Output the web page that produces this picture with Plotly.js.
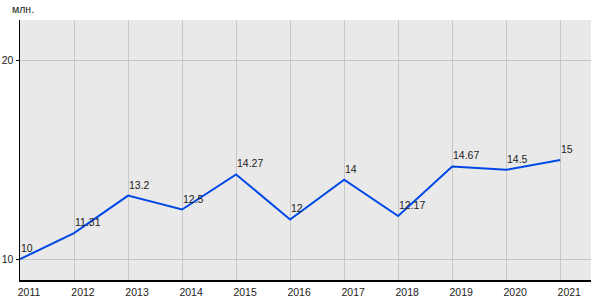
<!DOCTYPE html>
<html>
<head>
<meta charset="utf-8">
<script src="https://cdn.plot.ly/plotly-3.0.1.min.js"></script>
<style>html,body{margin:0;padding:0;background:#fff;}#chart{width:600px;height:300px;}</style>
</head>
<body>
<div id="chart"></div>
<script>
const years = [2011, 2012, 2013, 2014, 2015, 2016, 2017, 2018, 2019, 2020, 2021];
const values = [10, 11.31, 13.2, 12.5, 14.27, 12, 14, 12.17, 14.67, 14.5, 15];
const valueLabels = ["10", "11.31", "13.2", "12.5", "14.27", "12", "14", "12.17", "14.67", "14.5", "15"];
const unitLabel = "млн.";

const trace = {
  x: years,
  y: values,
  type: 'scatter',
  mode: 'lines',
  line: {color: 'rgb(0,72,230)', width: 2},
  cliponaxis: false,
  hoverinfo: 'none'
};

const labelAnnotations = years.map((yr, i) => ({
  x: yr, y: values[i], xref: 'x', yref: 'y',
  text: valueLabels[i], showarrow: false,
  xanchor: 'left', yanchor: 'bottom', xshift: -1, yshift: 3,
  font: {family: 'Liberation Sans, Arial, sans-serif', size: 10.5, color: '#222'}
}));

const layout = {
  width: 600, height: 300,
  margin: {l: 20, r: 9, t: 20, b: 20},
  paper_bgcolor: '#ffffff',
  plot_bgcolor: '#e9e9e9',
  showlegend: false,
  font: {family: 'Liberation Sans, Arial, sans-serif', size: 10.5, color: '#222'},
  xaxis: {
    range: [2011, 2021.57],
    tickvals: years,
    ticktext: years.map(String),
    ticks: '',
    showgrid: true, gridcolor: '#c8c8c8', gridwidth: 1,
    showline: true, linecolor: '#000', linewidth: 1.5,
    zeroline: false,
    ticklabelshift: 9,
    ticklabelstandoff: 2,
    fixedrange: true
  },
  yaxis: {
    range: [8.95, 22.05],
    tickvals: [10, 20],
    ticks: 'outside', ticklen: 3, tickcolor: '#000', tickwidth: 1,
    showgrid: true, gridcolor: '#c8c8c8', gridwidth: 1,
    showline: true, linecolor: '#000', linewidth: 1.5,
    zeroline: false,
    fixedrange: true
  },
  annotations: [{
    text: unitLabel, xref: 'paper', yref: 'paper', x: 0, y: 1,
    xanchor: 'left', yanchor: 'bottom', xshift: -10, yshift: 3,
    showarrow: false, font: {size: 10.5, color: '#222'}
  }].concat(labelAnnotations)
};

Plotly.newPlot('chart', [trace], layout, {displayModeBar: false, staticPlot: true});
</script>
</body>
</html>
